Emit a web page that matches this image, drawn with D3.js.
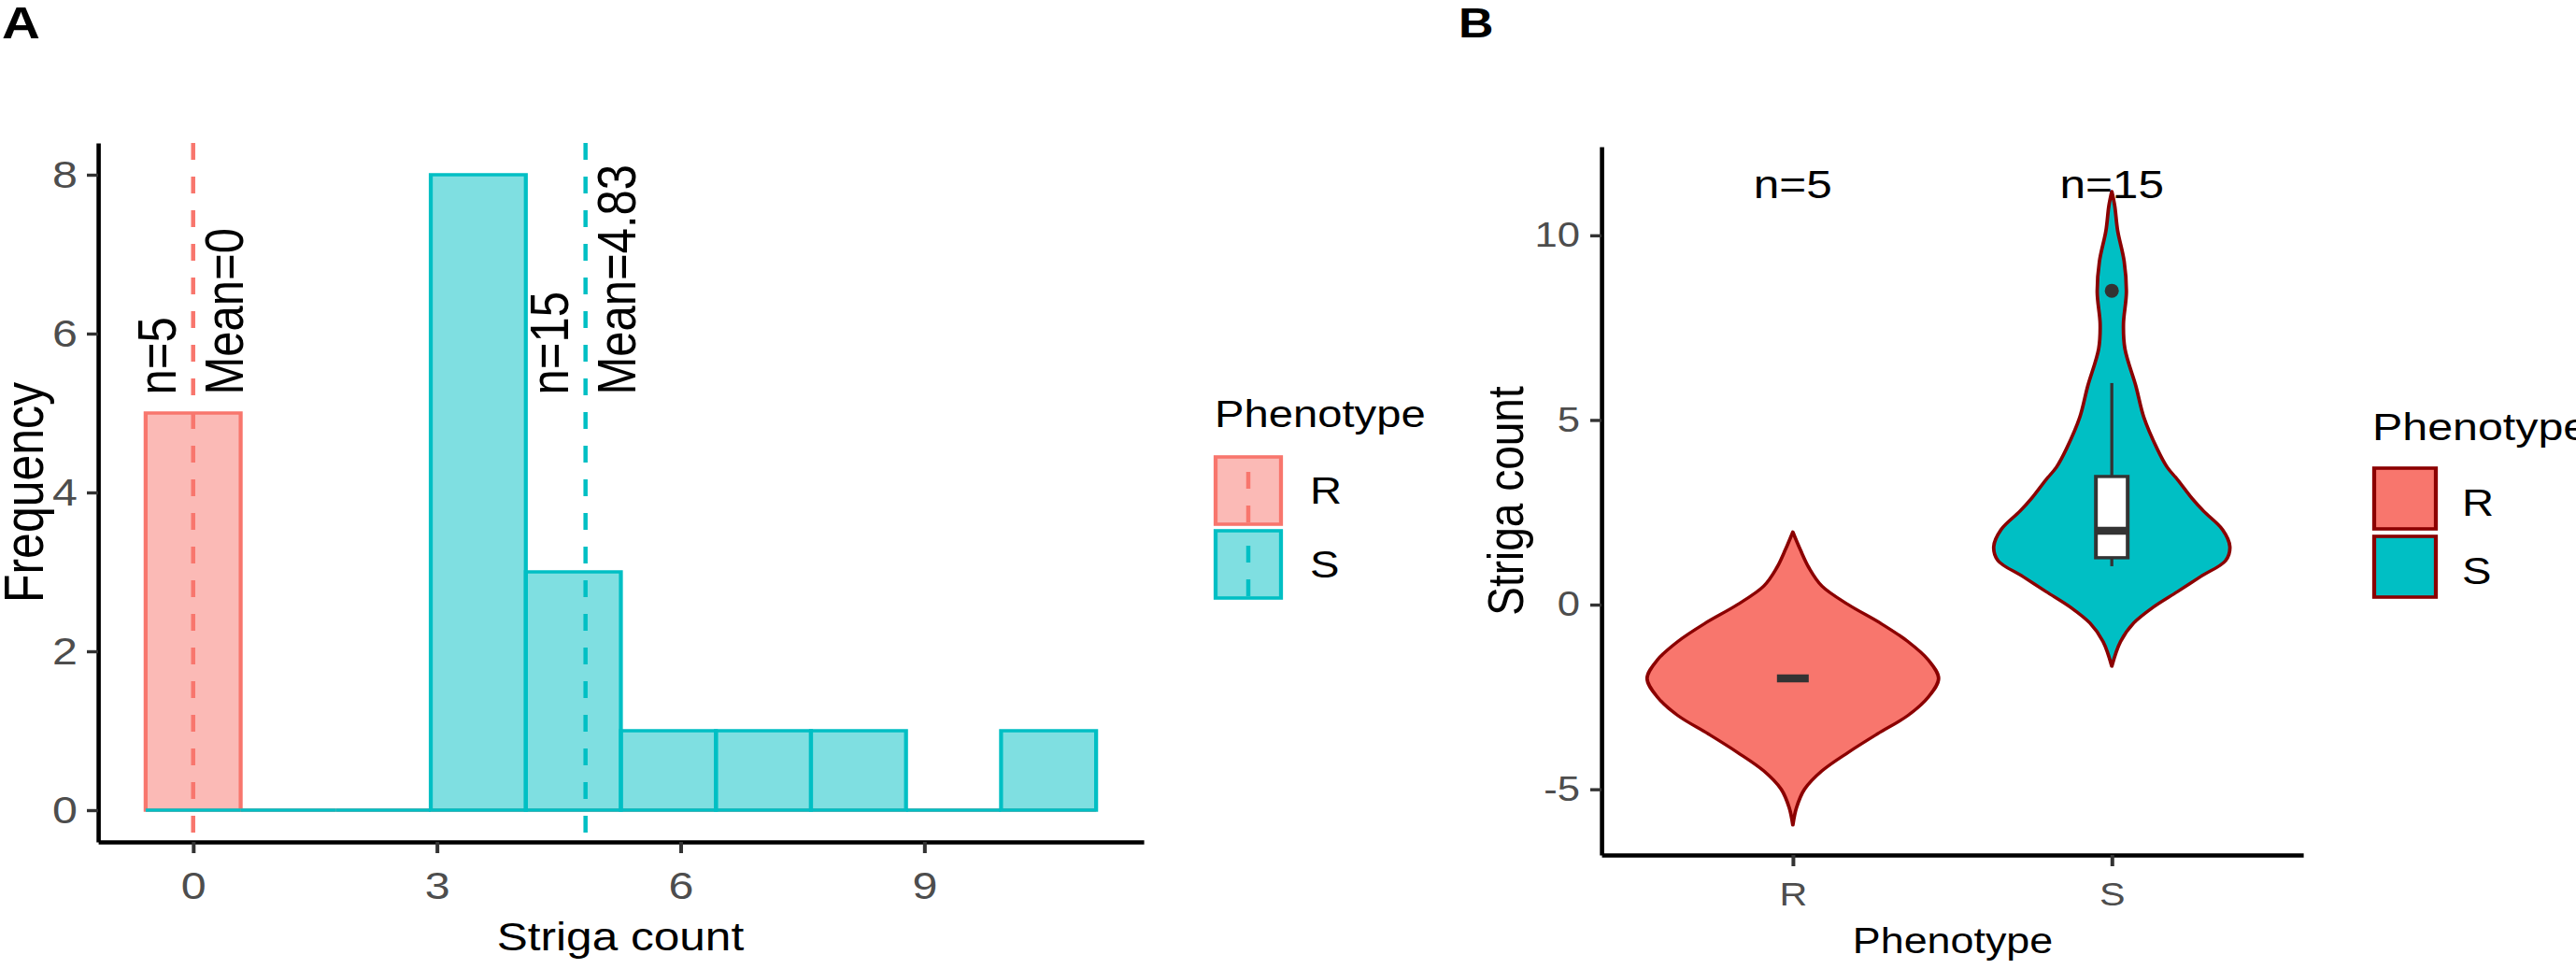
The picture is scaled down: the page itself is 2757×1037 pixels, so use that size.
<!DOCTYPE html>
<html><head><meta charset="utf-8">
<script src="https://cdn.jsdelivr.net/npm/d3@7"></script>
<style>html,body{margin:0;padding:0;background:#fff;} svg{display:block;}</style>
</head><body>
<svg id="chart" width="2757" height="1037"></svg>
<script>
// ---------------- Data ----------------
const phenotypes = ["R", "S"];
const groupColors = ["#F8766D", "#00BFC4"];
const groupN = [5, 15];
const groupMean = [0, 4.83];

// Panel A: histogram (bins of width 1.17 centred on 0, 1.17, 2.34 ...)
const histBinStart = -0.585;
const histBinWidth = 1.17;
const histCountsR = [5, 0, 0, 0, 0, 0, 0, 0, 0, 0];
const histCountsS = [0, 0, 0, 8, 3, 1, 1, 1, 0, 1];
const histXTicks = [0, 3, 6, 9];
const histYTicks = [0, 2, 4, 6, 8];
const meanLabelY = 5.23;

// Panel B: violin outlines [value, relative density]
const violinR = [[1.97,0],[1.5,0.05],[1.0,0.11],[0.5,0.2],[0,0.38],[-0.5,0.6],[-1.0,0.79],[-1.5,0.93],[-2.0,1.0],
  [-2.5,0.93],[-3.0,0.79],[-3.5,0.58],[-4.0,0.38],[-4.5,0.2],[-5.0,0.08],[-5.5,0.025],[-5.97,0]];
const violinS = [[11.19,0],[10.8,0.02],[10.13,0.04],[9.29,0.085],[8.45,0.1],[7.6,0.08],[6.93,0.09],[5.92,0.165],
  [5.07,0.22],[4.23,0.31],[3.72,0.38],[3.39,0.45],[2.88,0.55],[2.53,0.63],[2.03,0.76],[1.57,0.81],[1.19,0.78],
  [0.76,0.61],[0.35,0.45],[-0.08,0.28],[-0.5,0.15],[-1.0,0.06],[-1.67,0]];
// box stats: [lower whisker, Q1, median, Q3, upper whisker]
const boxStatsR = [-2, -2, -2, -2, -2];
const boxStatsS = [1.04, 1.27, 2.0, 3.47, 6.0];
const outliersS = [8.5];
const violinYTicks = [-5, 0, 5, 10];
const nLabelY = 11.0;

// ---------------- Drawing ----------------
const SX = 1.18;               // the reference is stretched horizontally
const ix = v => v / SX;        // actual px -> internal x units
const FONT = "'Liberation Sans', Arial, Helvetica, sans-serif";

const svg = d3.select("#chart");
const root = svg.append("g").attr("transform", `scale(${SX},1)`);

function addText(parent, str, x, y, o = {}) {
  return parent.append("text")
    .attr("transform", `translate(${x},${y})` + (o.rotate ? ` rotate(${o.rotate})` : ""))
    .attr("font-family", FONT)
    .attr("font-size", o.size || 40)
    .attr("font-weight", o.weight || "normal")
    .attr("fill", o.color || "#000")
    .attr("text-anchor", o.anchor || "start")
    .text(str);
}

// ===== Panel A =====
const gA = root.append("g");
const xA = d3.scaleLinear().domain([-1.17, 11.7]).range([ix(105), ix(1224)]);
const yA = d3.scaleLinear().domain([-0.4, 8.4]).range([901, 153]);

addText(gA, "A", ix(2), 41, {size: 48, weight: "bold"});

[histCountsR, histCountsS].forEach((counts, gi) => {
  const bins = counts.map((c, i) => ({x0: histBinStart + i * histBinWidth, x1: histBinStart + (i + 1) * histBinWidth, c}));
  gA.append("g").selectAll("path").data(bins).join("path")
    .attr("d", d => `M${xA(d.x0)},${yA(0)}V${yA(d.c)}H${xA(d.x1)}V${yA(0)}Z`)
    .attr("fill", groupColors[gi]).attr("fill-opacity", 0.5)
    .attr("stroke", groupColors[gi]).attr("stroke-width", 3.6);
});

// mean lines
gA.append("g").selectAll("line").data(groupMean).join("line")
  .attr("x1", d => xA(d)).attr("x2", d => xA(d))
  .attr("y1", yA.range()[1]).attr("y2", yA.range()[0])
  .attr("stroke", (d, i) => groupColors[i]).attr("stroke-width", 3.8)
  .attr("stroke-dasharray", "18 18");

// labels n= and Mean=
groupMean.forEach((m, i) => {
  addText(gA, "n=" + groupN[i], xA(m) - ix(19), yA(meanLabelY), {size: 49, rotate: -90});
  addText(gA, "Mean=" + m, xA(m) + ix(53), yA(meanLabelY), {size: 49, rotate: -90});
});

// axes A
const axAy = gA.append("g").attr("transform", `translate(${ix(105)},0)`)
  .call(d3.axisLeft(yA).tickValues(histYTicks).tickFormat(d => String(d)).tickSize(ix(12)).tickSizeOuter(0).tickPadding(ix(10)));
const axAx = gA.append("g").attr("transform", `translate(0,901)`)
  .call(d3.axisBottom(xA).tickValues(histXTicks).tickFormat(d => String(d)).tickSize(12).tickSizeOuter(0).tickPadding(20));
axAy.select(".domain").attr("stroke", "#000").attr("stroke-width", 3.9);
axAx.select(".domain").attr("stroke", "#000").attr("stroke-width", 4.6);
[axAy, axAx].forEach(a => {
  a.attr("font-family", FONT).attr("font-size", 41);
  a.selectAll(".tick line").attr("stroke", "#333").attr("stroke-width", 3.4);
  a.selectAll(".tick text").attr("fill", "#4D4D4D");
});
addText(gA, "Striga count", ix(664), 1017, {size: 42, anchor: "middle"});
addText(gA, "Frequency", ix(46), 527, {size: 50, anchor: "middle", rotate: -90});

// legend A
const lgA = gA.append("g");
addText(lgA, "Phenotype", ix(1300), 457, {size: 40});
phenotypes.forEach((p, i) => {
  const top = 489 + i * 79;
  lgA.append("rect").attr("x", ix(1301)).attr("y", top).attr("width", ix(70)).attr("height", 72)
    .attr("fill", groupColors[i]).attr("fill-opacity", 0.5)
    .attr("stroke", groupColors[i]).attr("stroke-width", 3.6);
  lgA.append("line").attr("x1", ix(1336)).attr("x2", ix(1336)).attr("y1", top - 2).attr("y2", top + 74)
    .attr("stroke", groupColors[i]).attr("stroke-width", 3.8)
    .attr("stroke-dasharray", "18 18").attr("stroke-dashoffset", 18);
  addText(lgA, p, ix(1402), top + 36 + 14, {size: 40});
});

// ===== Panel B =====
const gB = root.append("g");
const xB = d3.scalePoint().domain(phenotypes).range([ix(1714), ix(2465)]).padding(0.6);
const yB = d3.scaleLinear().domain([-6.78, 12.4]).range([915, 157]);
const wB = d3.scaleLinear().domain([0, 1]).range([0, ix(156)]);

addText(gB, "B", ix(1561), 40, {size: 44, weight: "bold"});

[violinR, violinS].forEach((prof, i) => {
  const cx = xB(phenotypes[i]);
  const area = d3.area()
    .y(d => yB(d[0]))
    .x0(d => cx - wB(d[1]))
    .x1(d => cx + wB(d[1]))
    .curve(d3.curveCatmullRom.alpha(0.5));
  gB.append("path").attr("d", area(prof))
    .attr("fill", groupColors[i]).attr("stroke", "#8B0000").attr("stroke-width", 3.2)
    .attr("stroke-linejoin", "round");
});

// boxplots
[boxStatsR, boxStatsS].forEach((b, i) => {
  const cx = xB(phenotypes[i]);
  const hw = ix(17);
  const g = gB.append("g");
  if (b[3] > b[1]) {
    g.append("line").attr("x1", cx).attr("x2", cx).attr("y1", yB(b[4])).attr("y2", yB(b[3]))
      .attr("stroke", "#333").attr("stroke-width", 2.8);
    g.append("line").attr("x1", cx).attr("x2", cx).attr("y1", yB(b[1])).attr("y2", yB(b[0]))
      .attr("stroke", "#333").attr("stroke-width", 2.8);
    g.append("rect").attr("x", cx - hw).attr("width", 2 * hw)
      .attr("y", yB(b[3])).attr("height", yB(b[1]) - yB(b[3]))
      .attr("fill", "#fff").attr("stroke", "#333").attr("stroke-width", 3.4);
  }
  g.append("line").attr("x1", cx - hw).attr("x2", cx + hw).attr("y1", yB(b[2])).attr("y2", yB(b[2]))
    .attr("stroke", "#333").attr("stroke-width", 8.5);
});
gB.append("g").selectAll("ellipse").data(outliersS).join("ellipse")
  .attr("cx", xB("S")).attr("cy", d => yB(d)).attr("rx", ix(7.5)).attr("ry", 7.5).attr("fill", "#333");

// n labels
phenotypes.forEach((p, i) => addText(gB, "n=" + groupN[i], xB(p), yB(nLabelY), {size: 42, anchor: "middle"}));

// axes B
const axBy = gB.append("g").attr("transform", `translate(${ix(1714)},0)`)
  .call(d3.axisLeft(yB).tickValues(violinYTicks).tickFormat(d => String(d)).tickSize(ix(12)).tickSizeOuter(0).tickPadding(ix(11)));
const axBx = gB.append("g").attr("transform", `translate(0,915)`)
  .call(d3.axisBottom(xB).tickSize(12).tickSizeOuter(0).tickPadding(17));
axBy.select(".domain").attr("stroke", "#000").attr("stroke-width", 3.9);
axBx.select(".domain").attr("stroke", "#000").attr("stroke-width", 4.6);
axBy.attr("font-family", FONT).attr("font-size", 37);
axBx.attr("font-family", FONT).attr("font-size", 35);
[axBy, axBx].forEach(a => {
  a.selectAll(".tick line").attr("stroke", "#333").attr("stroke-width", 3.4);
  a.selectAll(".tick text").attr("fill", "#4D4D4D");
});
addText(gB, "Phenotype", ix(2090), 1020, {size: 38, anchor: "middle"});
addText(gB, "Striga count", ix(1630), 536, {size: 46, anchor: "middle", rotate: -90});

// legend B
const lgB = gB.append("g");
addText(lgB, "Phenotype", ix(2539), 471, {size: 41});
phenotypes.forEach((p, i) => {
  const top = 501 + i * 73;
  lgB.append("rect").attr("x", ix(2541)).attr("y", top).attr("width", ix(66)).attr("height", 65)
    .attr("fill", groupColors[i]).attr("stroke", "#8B0000").attr("stroke-width", 3.6);
  addText(lgB, p, ix(2635), top + 51, {size: 40});
});
</script>
</body></html>
